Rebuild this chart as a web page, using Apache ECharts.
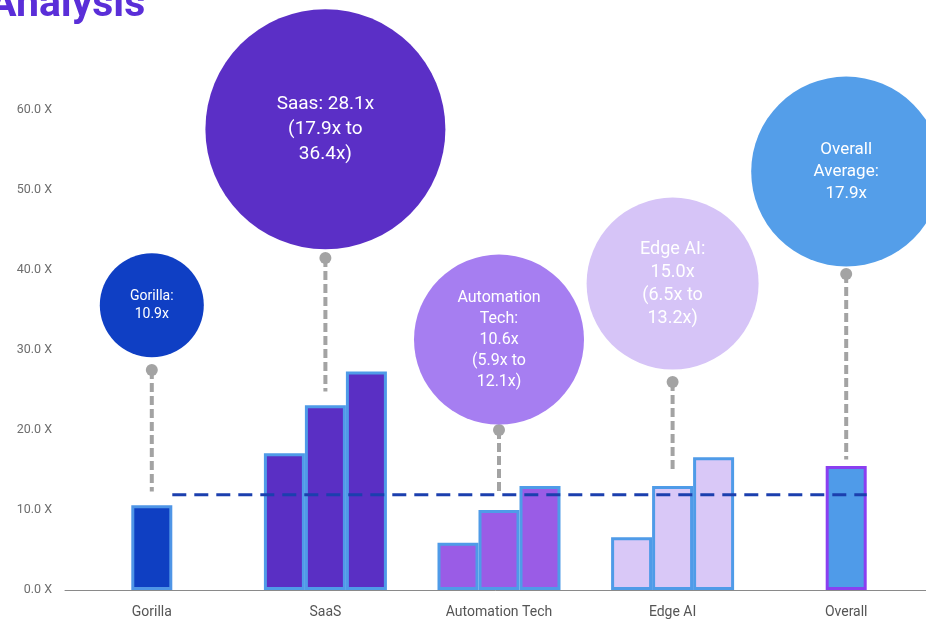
<!DOCTYPE html>
<html>
<head>
<meta charset="utf-8">
<script src="https://cdn.jsdelivr.net/npm/echarts@6/dist/echarts.min.js"></script>
<style>
  html, body { margin: 0; padding: 0; background: #ffffff; }
  #chart { width: 926px; height: 620px; }
</style>
</head>
<body>
<div id="chart"></div>
<script>
// categories and bar values (three bars per group, middle slot used for single bars)
const categories = ['Gorilla', 'SaaS', 'Automation Tech', 'Edge AI', 'Overall'];
const barLow = ['-', 17.1, 5.9, 6.6, '-'];
const barMid = [10.6, 23.1, 10.0, 13.0, 15.5];
const barHigh = ['-', 27.3, 13.0, 16.6, '-'];

// bubble annotations
const bubbleY = [35.6, 57.6, 31.3, 38.3, 52.3];
const bubbleSize = [104, 240, 170, 172, 190];
const bubbleText = [
  'Gorilla:\n10.9x',
  'Saas: 28.1x\n(17.9x to\n36.4x)',
  'Automation\nTech:\n10.6x\n(5.9x to\n12.1x)',
  'Edge AI:\n15.0x\n(6.5x to\n13.2x)',
  'Overall\nAverage:\n17.9x'
];
const bubbleFont = [14, 19, 16, 18, 17];

// connector lines: [category, dot value, bottom value]
const connectors = [
  [0, 27.5, 12.3],
  [1, 41.5, 24.8],
  [2, 20.0, 12.0],
  [3, 26.0, 14.8],
  [4, 39.5, 16.3]
];

// dashed average line: [from category, to category, value]
const avgLine = [[0, 4, 11.9]];
const yTicks = [0, 60, 10];

const fills = ['#0f3fc2', '#5a2fc4', '#9a5ce6', '#d9c8f7', '#4f9be9'];
const borders = ['#4f95e6', '#4f9be8', '#4f9be8', '#4f9be8', '#8a3ff0'];
const bubbleColors = ['#0f3fc4', '#5b2fc6', '#a67ef1', '#d6c4f7', '#549ee9'];

const BAR_W = 41;

const myChart = echarts.init(document.getElementById('chart'));

const barSeries = (name, values) => ({
  name: name,
  type: 'bar',
  barWidth: BAR_W,
  barGap: '0%',
  z: 2,
  data: values.map((v, i) => ({
    value: v,
    itemStyle: { color: fills[i], borderColor: borders[i], borderWidth: 3 }
  }))
});

const option = {
  backgroundColor: '#ffffff',
  animation: false,
  textStyle: { fontFamily: 'Roboto, sans-serif' },
  title: {
    text: 'Analysis',
    left: -16,
    top: -20,
    textStyle: { color: '#5a2ed8', fontSize: 41, fontWeight: 'bold', fontFamily: 'Roboto, sans-serif' }
  },
  grid: { left: 65, width: 868, top: 110, bottom: 30, outerBoundsMode: 'none' },
  xAxis: {
    type: 'category',
    data: categories,
    axisTick: { show: false },
    axisLine: { lineStyle: { color: '#8a8a8a', width: 1 } },
    axisLabel: { color: '#555555', fontSize: 14, margin: 15 }
  },
  yAxis: {
    type: 'value',
    min: yTicks[0],
    max: yTicks[1],
    interval: yTicks[2],
    splitLine: { show: false },
    axisLine: { show: false },
    axisTick: { show: false },
    axisLabel: {
      color: '#6e6e6e',
      fontSize: 12.5,
      margin: 13,
      formatter: v => v.toFixed(1) + ' X'
    }
  },
  series: [
    barSeries('low', barLow),
    barSeries('mid', barMid),
    barSeries('high', barHigh),
    {
      type: 'custom',
      z: 3,
      data: connectors,
      renderItem: (params, api) => {
        const top = api.coord([api.value(0), api.value(1)]);
        const bot = api.coord([api.value(0), api.value(2)]);
        return {
          type: 'group',
          children: [
            {
              type: 'line',
              shape: { x1: top[0], y1: top[1], x2: bot[0], y2: bot[1] },
              style: { stroke: '#a3a3a3', lineWidth: 4, lineDash: [9, 4] }
            },
            {
              type: 'circle',
              shape: { cx: top[0], cy: top[1], r: 6 },
              style: { fill: '#a3a3a3' }
            }
          ]
        };
      }
    },
    {
      type: 'custom',
      z: 4,
      data: avgLine,
      renderItem: (params, api) => {
        const p1 = api.coord([api.value(0), api.value(2)]);
        const p2 = api.coord([api.value(1), api.value(2)]);
        return {
          type: 'line',
          shape: { x1: p1[0] + BAR_W / 2, y1: p1[1], x2: p2[0] + BAR_W / 2, y2: p2[1] },
          style: { stroke: '#1b3fae', lineWidth: 3, lineDash: [14, 8] }
        };
      }
    },
    {
      type: 'scatter',
      z: 5,
      clip: false,
      data: bubbleY.map((v, i) => ({
        value: [i, v],
        symbolSize: bubbleSize[i],
        itemStyle: { color: bubbleColors[i], opacity: 1 },
        label: {
          show: true,
          position: 'inside',
          formatter: bubbleText[i],
          color: '#ffffff',
          fontSize: bubbleFont[i],
          lineHeight: Math.round(bubbleFont[i] * 1.3),
          align: 'center'
        }
      }))
    }
  ]
};

option && myChart.setOption(option);
</script>
</body>
</html>
